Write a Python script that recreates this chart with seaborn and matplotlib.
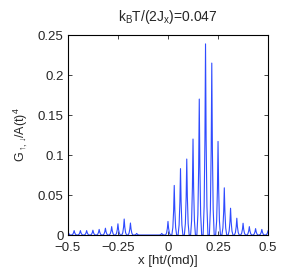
import numpy as np
import pandas as pd
import seaborn as sns
import matplotlib
matplotlib.use('Agg')
import matplotlib.pyplot as plt

# peak positions (x in units of ht/(md)) and peak heights
peak_x = [-0.5, -0.46875, -0.4375, -0.40625, -0.375, -0.34375, -0.3125, -0.28125,
          -0.25, -0.21875, -0.1875, -0.15625, -0.125, -0.09375, -0.0625, -0.03125,
          0.0, 0.03125, 0.0625, 0.09375, 0.125, 0.15625, 0.1875, 0.21875,
          0.25, 0.28125, 0.3125, 0.34375, 0.375, 0.40625, 0.4375, 0.46875, 0.5]
peak_h = [0.0055, 0.0055, 0.0055, 0.0055, 0.006, 0.007, 0.0085, 0.0105,
          0.014, 0.02, 0.015, 0.002, 0.0, 0.0, 0.0, 0.002,
          0.017, 0.062, 0.083, 0.095, 0.12, 0.17, 0.239, 0.215,
          0.117, 0.059, 0.0335, 0.021, 0.0147, 0.0105, 0.008, 0.007, 0.0055]

xticks = [-0.5, -0.25, 0, 0.25, 0.5]
xtick_labels = ['\u22120.5', '\u22120.25', '0', '0.25', '0.5']
yticks = [0, 0.05, 0.1, 0.15, 0.2, 0.25]
ytick_labels = ['0', '0.05', '0.1', '0.15', '0.2', '0.25']

# shape of a single spike (offset from centre, fraction of height)
spike_dx = [-0.012, -0.007, -0.003, 0.0, 0.003, 0.007, 0.012]
spike_f = [0.0, 0.15, 0.5, 1.0, 0.5, 0.15, 0.0]

xs, ys = [], []
for px, ph in zip(peak_x, peak_h):
    for dx, f in zip(spike_dx, spike_f):
        xs.append(px + dx)
        ys.append(ph * f)
df = pd.DataFrame({'x': xs, 'G': ys})

sns.set_style('white')
plt.rcParams['font.family'] = ['Liberation Sans', 'DejaVu Sans']
plt.rcParams['mathtext.fontset'] = 'custom'
plt.rcParams['mathtext.rm'] = 'Liberation Sans'
plt.rcParams['mathtext.it'] = 'Liberation Sans'
plt.rcParams['mathtext.fallback'] = 'stixsans'

fig = plt.figure(figsize=(2.84, 2.72), dpi=100)
ax = fig.add_axes([0.239, 0.136, 0.705, 0.735])
sns.lineplot(data=df, x='x', y='G', sort=False, estimator=None,
             color='#2f4bff', linewidth=0.8, ax=ax)

ax.set_xlim(-0.5, 0.5)
ax.set_ylim(0, 0.25)
ax.set_xticks(xticks)
ax.set_xticklabels(xtick_labels)
ax.set_yticks(yticks)
ax.set_yticklabels(ytick_labels)
ax.tick_params(direction='in', length=3, width=0.6, labelsize=9.5,
               top=True, right=True, bottom=True, left=True)
ax.tick_params(axis='x', pad=5)
ax.tick_params(axis='y', pad=3)
for s in ax.spines.values():
    s.set_linewidth(0.8)
    s.set_color('black')

ax.set_xlabel('x [ht/(md)]', fontsize=9.5, labelpad=1)
ax.set_ylabel(r'$\mathregular{G_{\uparrow\!,\!\downarrow}\!/A(t)^4}$', fontsize=9, labelpad=6)
ax.set_title(r'$\mathregular{k_BT/(2J_x)}$=0.047', fontsize=10, pad=10)

fig.savefig('out.png', dpi=100)
